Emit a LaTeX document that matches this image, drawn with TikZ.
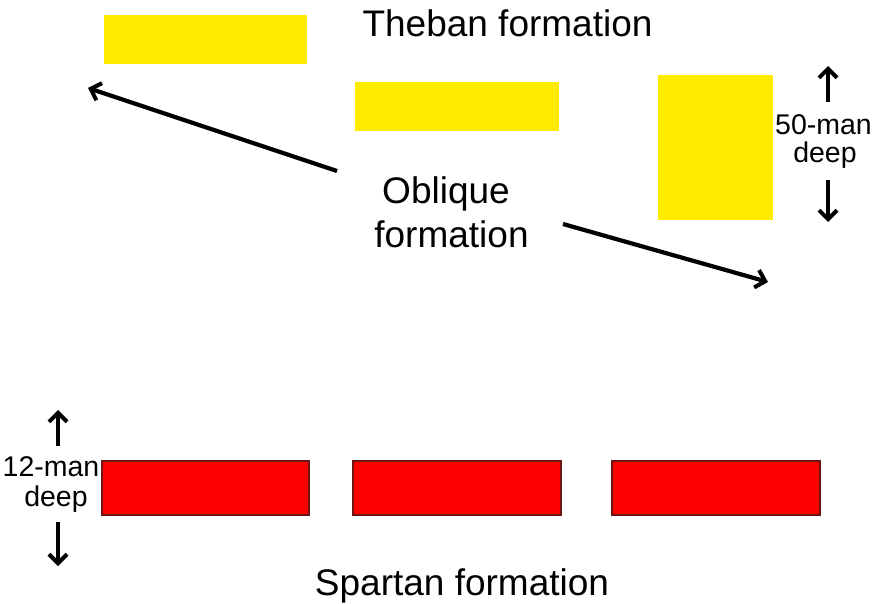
\documentclass[tikz,border=0pt]{standalone}
\usepackage{fontspec}
\setmainfont{Liberation Sans}
\usetikzlibrary{arrows.meta}
\definecolor{thebyellow}{RGB}{255,235,0}
\definecolor{spartred}{RGB}{255,0,0}
\definecolor{spartedge}{RGB}{110,20,20}
\begin{document}
\begin{tikzpicture}[x=1pt,y=-1pt,
  theb/.style={fill=thebyellow,draw=none},
  spart/.style={fill=spartred,draw=spartedge,line width=1.2pt},
  bigtext/.style={font=\fontsize{37}{44}\selectfont,inner sep=0pt,anchor=base},
  smalltext/.style={font=\fontsize{28.5}{24}\selectfont,inner sep=0pt,anchor=base},
  arr/.style={line width=4.2pt,-{Straight Barb[length=9pt,width=18pt,line width=4pt]}}]
\useasboundingbox (0,0) rectangle (879,604);
% Theban
\path[theb] (104,15) rectangle (307,64);
\path[theb] (355,82) rectangle (559,131);
\path[theb] (658,75) rectangle (773,220);
\node[bigtext] (theban) at (507.5,37) {Theban formation};
\node[bigtext] (obl1) at (446,204) {Oblique};
\node[bigtext] (obl2) at (451.5,248) {formation};
\node[smalltext] (fifty) at (823.5,135) {50-man};
\node[smalltext] (deepA) at (825,163) {deep};
% Spartan
\path[spart] (102,461) rectangle (309,515);
\path[spart] (353,461) rectangle (561,515);
\path[spart] (612,461) rectangle (820,515);
\node[bigtext] (spartan) at (462,595) {Spartan formation};
\node[smalltext] (twelve) at (51,476) {12-man};
\node[smalltext] (deepB) at (56,506) {deep};
% arrows
\coordinate (a1s) at (337,171);
\coordinate (a1e) at (88,88);
\coordinate (a2s) at (563,224);
\coordinate (a2e) at (768,282);
\draw[arr] (a1s) -- (a1e);
\draw[arr] (a2s) -- (a2e);
\coordinate (u1s) at (828,102);
\coordinate (u1e) at (828,66);
\coordinate (d1s) at (828,180);
\coordinate (d1e) at (828,222);
\draw[arr] (u1s) -- (u1e);
\draw[arr] (d1s) -- (d1e);
\coordinate (u2s) at (58,446);
\coordinate (u2e) at (58,410);
\coordinate (d2s) at (58,522);
\coordinate (d2e) at (58,566);
\draw[arr] (u2s) -- (u2e);
\draw[arr] (d2s) -- (d2e);
\end{tikzpicture}
\end{document}
